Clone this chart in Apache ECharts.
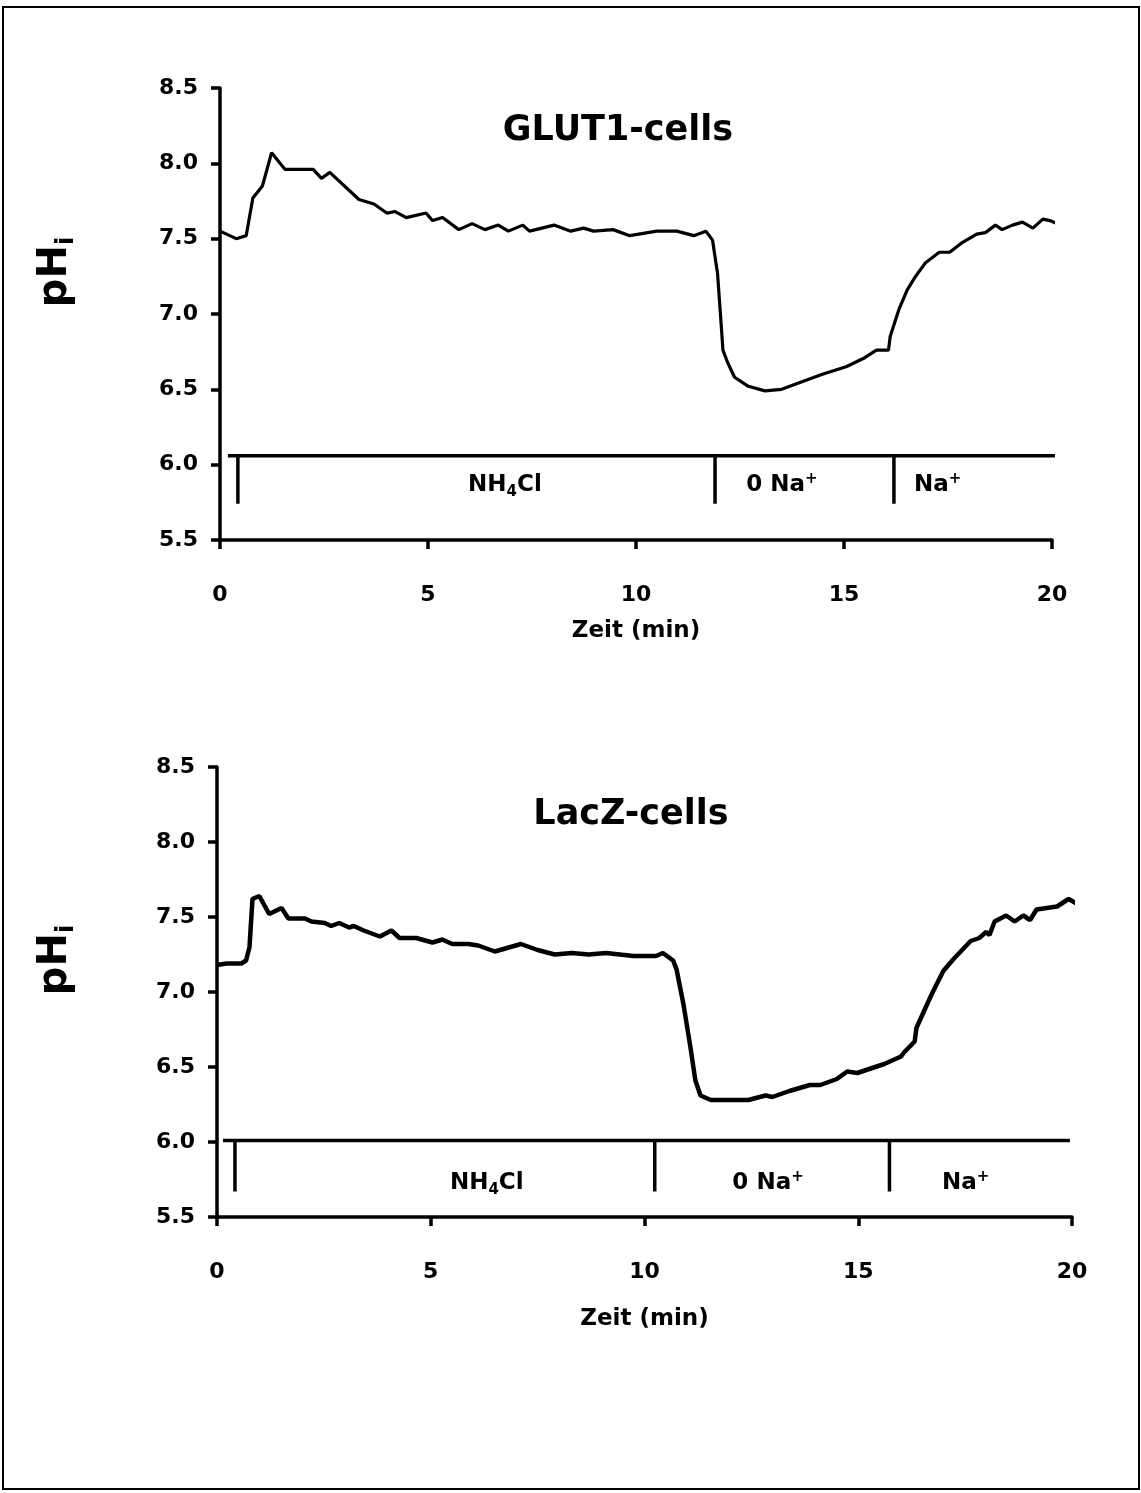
<!DOCTYPE html>
<html><head><meta charset="utf-8">
<script src="https://cdn.jsdelivr.net/npm/echarts@6/dist/echarts.min.js"></script>
<style>html,body{margin:0;padding:0;background:#fff}#c{width:1141px;height:1493px}</style>
</head><body><div id="c"></div>
<script>
// ---- data ----
const glutTime = [0, 0.39, 0.63, 0.79, 1.02, 1.24, 1.56, 2.24, 2.44, 2.64, 3.34, 3.70, 4.01, 4.21, 4.48, 4.95, 5.11, 5.35, 5.74, 6.06, 6.37, 6.69, 6.93, 7.28, 7.44, 8.03, 8.43, 8.74, 8.98, 9.45, 9.85, 10.5, 10.98, 11.39, 11.68, 11.84, 11.96, 12.05, 12.09, 12.2, 12.37, 12.7, 13.1, 13.5, 13.99, 14.48, 15.05, 15.5, 15.78, 16.07, 16.11, 16.32, 16.52, 16.72, 16.96, 17.29, 17.54, 17.82, 18.19, 18.4, 18.64, 18.8, 19.05, 19.29, 19.54, 19.78, 19.95, 20.2];
const glutPH   = [7.55, 7.50, 7.52, 7.77, 7.85, 8.07, 7.96, 7.96, 7.90, 7.94, 7.76, 7.73, 7.67, 7.68, 7.64, 7.67, 7.62, 7.64, 7.56, 7.60, 7.56, 7.59, 7.55, 7.59, 7.55, 7.59, 7.55, 7.57, 7.55, 7.56, 7.52, 7.55, 7.55, 7.52, 7.55, 7.49, 7.27, 6.92, 6.76, 6.68, 6.58, 6.52, 6.49, 6.50, 6.55, 6.60, 6.65, 6.71, 6.76, 6.76, 6.85, 7.03, 7.16, 7.25, 7.34, 7.41, 7.41, 7.47, 7.53, 7.54, 7.59, 7.56, 7.59, 7.61, 7.57, 7.63, 7.62, 7.59];

const lacTime = [0, 0.22, 0.57, 0.68, 0.76, 0.83, 0.99, 1.22, 1.51, 1.67, 2.06, 2.21, 2.52, 2.67, 2.86, 3.09, 3.2, 3.43, 3.81, 4.08, 4.27, 4.66, 5.04, 5.27, 5.5, 5.88, 6.11, 6.5, 7.11, 7.5, 7.9, 8.3, 8.7, 9.1, 9.74, 10.27, 10.43, 10.67, 10.75, 10.91, 11.07, 11.19, 11.31, 11.55, 12.03, 12.43, 12.83, 12.99, 13.39, 13.87, 14.11, 14.5, 14.74, 14.98, 15.29, 15.61, 16.0, 16.08, 16.32, 16.36, 16.55, 16.71, 16.83, 16.99, 17.23, 17.43, 17.63, 17.83, 17.99, 18.07, 18.19, 18.46, 18.66, 18.86, 19.02, 19.17, 19.65, 19.92, 20.11, 20.43];
const lacPH   = [7.18, 7.19, 7.19, 7.21, 7.30, 7.62, 7.64, 7.52, 7.56, 7.49, 7.49, 7.47, 7.46, 7.44, 7.46, 7.43, 7.44, 7.41, 7.37, 7.41, 7.36, 7.36, 7.33, 7.35, 7.32, 7.32, 7.31, 7.27, 7.32, 7.28, 7.25, 7.26, 7.25, 7.26, 7.24, 7.24, 7.26, 7.21, 7.15, 6.92, 6.64, 6.41, 6.31, 6.28, 6.28, 6.28, 6.31, 6.30, 6.34, 6.38, 6.38, 6.42, 6.47, 6.46, 6.49, 6.52, 6.57, 6.60, 6.67, 6.76, 6.88, 6.98, 7.05, 7.14, 7.22, 7.28, 7.34, 7.36, 7.40, 7.38, 7.47, 7.51, 7.47, 7.51, 7.48, 7.55, 7.57, 7.62, 7.59, 7.62];

const xTickValues = [0, 5, 10, 15, 20];
const yTickValues = [5.5, 6.0, 6.5, 7.0, 7.5, 8.0, 8.5];

// treatment bars: [start, end] of the horizontal bar, its pH level, the marker foot level
const glutBarSpan = [0.19, 20.26];
const glutBarLevels = [6.06, 5.74];
const glutMarkers = [0.43, 11.9, 16.2];
const lacBarSpan = [0.14, 19.95];
const lacBarLevels = [6.01, 5.67];
const lacMarkers = [0.42, 10.24, 15.73];

const phaseNames = ['NH4Cl', '0 Na+', 'Na+'];
const glutPhaseX = [6.85, 13.51, 17.25];
const glutPhaseY = 5.865;
const lacPhaseX = [6.31, 12.89, 17.51];
const lacPhaseY = 5.727;

const titles = ['GLUT1-cells', 'LacZ-cells'];

// ---- chart ----
const FONT = 'DejaVu Sans';
const chart = echarts.init(document.getElementById('c'), null, {renderer: 'canvas'});

const richMap = {
  'NH4Cl': '{a|NH}{s|4}{a|Cl}',
  '0 Na+': '{a|0 Na}{p|+}',
  'Na+': '{a|Na}{p|+}'
};
const phaseRich = {
  a: {fontSize: 23, fontWeight: 'bold', fontFamily: FONT, fill: '#000'},
  s: {fontSize: 15, fontWeight: 'bold', fontFamily: FONT, fill: '#000', padding: [14, 0, 0, 0]},
  p: {fontSize: 15, fontWeight: 'bold', fontFamily: FONT, fill: '#000', padding: [0, 0, 12, 0]}
};

function xAxisCfg(gi, gap) {
  return {
    gridIndex: gi, type: 'value', min: 0, max: 20, interval: 5,
    name: 'Zeit (min)', nameLocation: 'middle', nameGap: gap,
    nameTextStyle: {fontSize: 23, fontWeight: 'bold', fontFamily: FONT, color: '#000'},
    axisLine: {show: true, onZero: false, lineStyle: {color: '#000', width: 3.5}},
    axisTick: {show: true, inside: false, length: 9, lineStyle: {color: '#000', width: 3.5}},
    axisLabel: {margin: 44, fontSize: 22, fontWeight: 'bold', fontFamily: FONT, color: '#000',
      customValues: xTickValues},
    splitLine: {show: false}
  };
}
function yAxisCfg(gi) {
  return {
    gridIndex: gi, type: 'value', min: 5.5, max: 8.5, interval: 0.5,
    axisLine: {show: true, onZero: false, lineStyle: {color: '#000', width: 3.5}},
    axisTick: {show: true, inside: false, length: 9, lineStyle: {color: '#000', width: 3.5}},
    axisLabel: {margin: 22, fontSize: 22, fontWeight: 'bold', fontFamily: FONT, color: '#000',
      formatter: v => v.toFixed(1)},
    splitLine: {show: false}
  };
}

function barSeries(gi, span, levels, markers, w) {
  const out = [{
    type: 'line', xAxisIndex: gi, yAxisIndex: gi, showSymbol: false, silent: true, clip: false,
    lineStyle: {color: '#000', width: w}, data: [[span[0], levels[0]], [span[1], levels[0]]]
  }];
  markers.forEach(m => out.push({
    type: 'line', xAxisIndex: gi, yAxisIndex: gi, showSymbol: false, silent: true, clip: false,
    lineStyle: {color: '#000', width: w}, data: [[m, levels[0]], [m, levels[1]]]
  }));
  return out;
}

const option = {
  animation: false,
  backgroundColor: '#fff',
  grid: [
    {left: 220, top: 88, width: 832, height: 452, outerBoundsMode: 'none'},
    {left: 217, top: 767, width: 855, height: 450, outerBoundsMode: 'none'}
  ],
  xAxis: [xAxisCfg(0, 80), xAxisCfg(1, 91)],
  yAxis: [yAxisCfg(0), yAxisCfg(1)],
  graphic: [
    {type: 'rect', shape: {x: 3, y: 7, width: 1136, height: 1482}, style: {fill: 'none', stroke: '#000', lineWidth: 2}, silent: true},
    {type: 'text', x: 618, y: 131, style: {text: titles[0], font: 'bold 35px "DejaVu Sans"', fill: '#000', align: 'center', verticalAlign: 'middle'}},
    {type: 'text', x: 631, y: 815, style: {text: titles[1], font: 'bold 35px "DejaVu Sans"', fill: '#000', align: 'center', verticalAlign: 'middle'}},
    {type: 'text', x: 56, y: 272, rotation: Math.PI / 2,
      style: {text: '{a|pH}{b|i}', align: 'center', verticalAlign: 'middle',
        rich: {a: {fontSize: 40, fontWeight: 'bold', fontFamily: FONT, fill: '#000'}, b: {fontSize: 24, fontWeight: 'bold', fontFamily: FONT, fill: '#000', padding: [22, 0, 0, 0]}}}},
    {type: 'text', x: 56, y: 960, rotation: Math.PI / 2,
      style: {text: '{a|pH}{b|i}', align: 'center', verticalAlign: 'middle',
        rich: {a: {fontSize: 40, fontWeight: 'bold', fontFamily: FONT, fill: '#000'}, b: {fontSize: 24, fontWeight: 'bold', fontFamily: FONT, fill: '#000', padding: [22, 0, 0, 0]}}}}
  ],
  series: [
    {type: 'line', xAxisIndex: 0, yAxisIndex: 0, showSymbol: false, clip: false, z: 5,
      lineStyle: {color: '#000', width: 3.2}, data: glutTime.map((t, i) => [t, glutPH[i]])},
    {type: 'line', xAxisIndex: 1, yAxisIndex: 1, showSymbol: false, clip: false, z: 5,
      lineStyle: {color: '#000', width: 4.5}, data: lacTime.map((t, i) => [t, lacPH[i]])},
    ...barSeries(0, glutBarSpan, glutBarLevels, glutMarkers, 3.5),
    ...barSeries(1, lacBarSpan, lacBarLevels, lacMarkers, 3.5)
  ]
};
chart.setOption(option);

// phase labels placed through the axes' own scales
function phaseGraphics(gi, xs, y) {
  return xs.map((x, i) => {
    const p = chart.convertToPixel({xAxisIndex: gi, yAxisIndex: gi}, [x, y]);
    return {type: 'text', x: p[0], y: p[1], silent: true,
      style: {text: richMap[phaseNames[i]], align: 'center', verticalAlign: 'middle', rich: phaseRich}};
  });
}
const baseGraphics = option.graphic;
chart.setOption({graphic: baseGraphics.concat(phaseGraphics(0, glutPhaseX, glutPhaseY), phaseGraphics(1, lacPhaseX, lacPhaseY))}, {replaceMerge: ['graphic']});
</script>
</body></html>
